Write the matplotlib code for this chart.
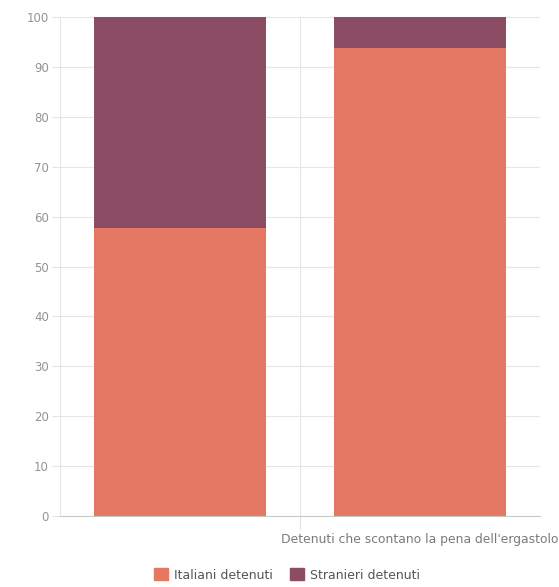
import numpy as np
import matplotlib
matplotlib.use("Agg")
import matplotlib.pyplot as plt
from matplotlib.patches import Patch

categories = ["", "Detenuti che scontano la pena dell'ergastolo"]
italiani = [57.7, 93.8]
stranieri = [42.3, 6.2]
yticks = [0, 10, 20, 30, 40, 50, 60, 70, 80, 90, 100]

col_ita = "#e57862"
col_str = "#8c4c63"
txt_col = "#8a8a8a"

fig = plt.figure(figsize=(5.59, 5.87), dpi=100)
ax = fig.add_axes([60 / 559, 1 - 516 / 587, 480 / 559, 499 / 587])

x = np.arange(1, len(categories) + 1)
w = 0.717
ax.bar(x, italiani, width=w, color=col_ita, zorder=3)
ax.bar(x, stranieri, width=w, bottom=italiani, color=col_str, zorder=3)

ax.set_xlim(0.5, len(categories) + 0.5)
ax.set_ylim(0, 100)
ax.set_yticks(yticks)
ax.set_yticklabels([str(v) for v in yticks])
ax.tick_params(axis="y", length=6, width=0.8, color="#e3e3e3",
               labelsize=8.5, labelcolor="#939393", pad=2)
ax.grid(axis="y", color="#e6e6e6", linewidth=0.8, zorder=0)

# category boundaries
for b in np.arange(0.5, len(categories), 1.0):
    ax.axvline(b, color="#e6e6e6", linewidth=0.8, zorder=0)

ax.set_xticks(np.arange(1.5, len(categories), 1.0))
ax.set_xticklabels([])
ax.tick_params(axis="x", length=10, width=0.8, color="#e3e3e3")
for xi, lab in zip(x, categories):
    ax.text(xi, -3.4, lab, ha="center", va="top", fontsize=8.9, color="#7a7a7a")

for s in ["top", "right", "left"]:
    ax.spines[s].set_visible(False)
ax.spines["bottom"].set_color("#c8c8c8")
ax.spines["bottom"].set_linewidth(0.8)
ax.spines["bottom"].set_zorder(4)

handles = [Patch(color=col_ita, label="Italiani detenuti"),
           Patch(color=col_str, label="Stranieri detenuti")]
fig.legend(handles=handles, loc="center", bbox_to_anchor=(287 / 559, 1 - 575 / 587),
           ncol=2, frameon=False, fontsize=9, labelcolor="#555555",
           handlelength=1.1, handleheight=1.1, handletextpad=0.5, columnspacing=1.4)

fig.savefig("out.png", dpi=100)
